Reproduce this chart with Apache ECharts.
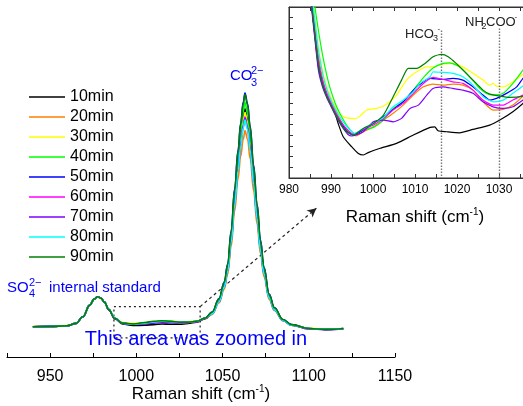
<!DOCTYPE html>
<html>
<head>
<meta charset="utf-8">
<script src="https://cdn.jsdelivr.net/npm/echarts@6/dist/echarts.min.js"></script>
<style>
html,body{margin:0;padding:0;background:#fff;}
#chart{width:523px;height:406px;}
</style>
</head>
<body>
<div id="chart"></div>
<script>
// ---------- data ----------
const seriesNames = ['10min','20min','30min','40min','50min','60min','70min','80min','90min'];
const seriesColors = ['#000000','#FF8000','#FFFF00','#00FF00','#0000FF','#FF00FF','#8000FF','#00FFFF','#008000'];

// main spectrum (Raman shift, cm-1)
const mainX = [940,950,960,965,969,973,975.5,977.5,979.5,981.5,984,987.5,992,998,1005,1010,1015,1020,1025,1030,1035,1040,
  1044,1048,1051,1053,1055,1057,1059,1060.5,1062,1063,1064.5,1066,1068,1070,1072,1074,1077,1080,1085,1090,1100,1110,1120];

const main10 = [10.1,10.2,10.4,11.2,13.4,17.3,19.3,20.1,19.6,18.3,15.8,12.8,11.0,10.5,10.6,10.8,11.0,10.9,10.9,11.2,11.6,12.8,
  14.7,18.9,24.0,29.6,39.8,52.9,65.0,73.4,79.9,82.7,79.4,72.4,60.3,48.2,37.0,28.6,20.3,16.1,12.3,10.7,9.5,9.2,9.4];
const main20 = [10.1,10.2,10.4,11.2,13.4,17.2,19.2,20.0,19.5,18.2,15.8,12.9,11.3,10.9,11.2,11.5,11.7,11.6,11.4,11.5,11.8,12.9,
  14.2,18.1,22.6,27.6,36.9,48.6,59.4,66.9,72.5,75.5,72.6,66.1,55.4,44.4,34.4,26.8,19.2,15.5,12.1,10.6,9.5,9.2,9.4];
const main30 = [10.2,10.3,10.5,11.3,13.4,17.3,19.3,20.1,19.6,18.3,15.9,13.0,11.5,11.2,11.5,11.8,12.0,11.9,11.7,11.8,12.0,13.1,
  14.6,18.7,23.8,29.3,39.3,52.2,64.1,72.4,78.8,81.5,78.3,71.7,59.8,47.6,36.7,28.3,20.1,16.0,12.3,10.7,9.6,9.3,9.6];
const main40 = [10.1,10.2,10.4,11.2,13.4,17.3,19.3,20.1,19.6,18.3,15.9,13.0,11.3,10.9,11.3,11.7,12.0,11.9,11.6,11.6,11.9,13.0,
  14.8,19.1,24.4,30.2,40.9,53.9,66.4,75.1,81.7,85.0,81.3,73.7,61.2,49.1,37.5,28.9,20.6,16.3,12.4,10.7,9.5,9.2,9.5];
const main50 = [10.1,10.2,10.4,11.2,13.4,17.3,19.3,20.1,19.6,18.3,15.8,12.9,11.3,10.9,11.3,11.6,11.8,11.7,11.5,11.6,11.9,13.0,
  15.0,19.5,25.0,31.0,42.0,56.0,69.0,78.0,85.0,88.0,84.5,77.0,64.0,51.0,39.0,30.0,21.0,16.5,12.5,10.8,9.5,9.2,9.5];
const main60 = [10.1,10.2,10.4,11.2,13.4,17.3,19.3,20.1,19.6,18.3,15.8,12.9,11.3,10.9,11.3,11.6,11.7,11.6,11.4,11.5,11.8,12.9,
  14.5,18.5,23.5,28.8,38.7,51.3,62.9,71.0,77.3,80.0,76.8,70.1,58.4,46.8,36.0,27.9,19.9,15.8,12.2,10.6,9.4,9.1,9.4];
const main70 = [10.1,10.2,10.4,11.2,13.4,17.3,19.3,20.1,19.6,18.3,15.8,12.8,11.2,10.9,11.0,11.3,11.6,11.5,11.4,11.5,11.8,12.9,
  14.5,18.5,23.4,28.7,38.5,50.9,62.5,70.5,76.8,79.5,76.3,69.6,58.0,46.5,35.8,27.8,19.8,15.8,12.2,10.6,9.4,9.1,9.4];
const main80 = [10.1,10.2,10.4,11.2,13.4,17.3,19.3,20.1,19.6,18.3,15.9,13.0,11.3,10.9,11.3,11.7,11.9,11.8,11.5,11.6,11.9,13.0,
  14.4,18.4,23.3,28.6,38.3,50.6,62.1,70.1,76.4,79.0,75.8,69.0,57.8,46.3,35.6,27.7,19.7,15.8,12.2,10.6,9.5,9.2,9.5];
const main90 = [10.1,10.2,10.4,11.2,13.4,17.3,19.3,20.1,19.6,18.3,15.8,12.9,11.3,11.0,11.5,11.9,12.1,11.9,11.6,11.6,11.9,13.0,
  15.0,19.5,24.9,30.9,41.8,55.7,68.6,77.5,84.5,87.5,84.0,76.6,63.6,50.7,38.8,29.9,20.9,16.4,12.5,10.8,9.5,9.2,9.5];

// inset (zoomed 980-1040 cm-1), [shift, intensity]
const inset10 = [[984,21],[985,17.6],[986,13.9],[987,10.4],[988,8.7],[989,7.7],[990,6.9],[991,6.0],[991.7,5.1],[992.9,3.86],[994.9,2.93],[996.5,2.3],[997.7,2.15],[999,2.4],[1001.7,2.78],[1005.6,3.24],[1009.6,4.02],[1013.6,4.74],[1014.7,4.79],[1015.5,4.42],[1017.5,4.33],[1020.6,4.23],[1023.8,4.55],[1027.8,4.95],[1030.2,5.42],[1033.3,6.2],[1035.7,6.98],[1038,7.8]];
const inset20 = [[984,22],[985,18.5],[986,15],[987,11.5],[988,9.3],[989,8.0],[990,7.2],[991,6.4],[992,5.6],[993,4.9],[994,4.4],[995,4.1],[996.1,3.95],[997.7,4.33],[1000.1,4.79],[1002.5,5.42],[1004.8,6.05],[1007.2,6.82],[1009.6,7.76],[1012,8.53],[1014.3,8.79],[1016.7,8.69],[1019,8.79],[1021.4,8.69],[1023.8,8.22],[1026.2,7.13],[1028.6,6.36],[1031,6.42],[1033.3,6.82],[1035.7,7.66],[1038,8.6]];
const inset30 = [[984,22.5],[985,19],[986,15.5],[987,12.2],[988,10],[989,8.5],[990,7.5],[991,6.7],[992,6.0],[993.3,5.67],[994.5,5.58],[995.7,5.54],[996.9,5.79],[998.5,6.36],[1000.9,6.51],[1002.5,6.73],[1004,7.13],[1005.6,7.76],[1008,9.16],[1010.4,9.93],[1012.8,10.4],[1014.3,10.4],[1016.7,10.65],[1019,10.72],[1021.4,10.4],[1023.8,9.79],[1026.2,9.16],[1027.8,8.69],[1028.6,8.85],[1029.4,8.6],[1031,8.53],[1033.3,9.0],[1035.7,9.7],[1038,10.5]];
const inset40 = [[984,23],[985,19.8],[986,16.5],[987,13.8],[988,11.5],[989,9.6],[989.8,8.38],[991,7.0],[992.1,6.05],[993.7,4.95],[995.7,4.11],[997.7,4.49],[1000.1,4.74],[1002.5,5.42],[1004.8,6.51],[1007.2,7.13],[1009.6,8.22],[1012,9.4],[1014.3,10.3],[1016.7,10.72],[1018.3,10.78],[1020.6,10.4],[1023,9.47],[1025.4,8.38],[1027,7.92],[1028.6,7.76],[1031,7.92],[1033.3,8.85],[1035.7,10.1],[1038,11.3]];
const inset50 = [[984,21],[985,17.6],[986,14],[987,10.6],[988,8.8],[989,7.7],[990,6.9],[991,6.1],[992,5.4],[993,4.8],[994,4.3],[995.3,4.02],[997.7,4.49],[1000.1,5.11],[1002.5,5.73],[1004.8,6.42],[1007.2,7.13],[1009.6,8.22],[1012,9.0],[1013.6,9.32],[1016.7,9.22],[1019,9.32],[1021.4,9.16],[1023.8,8.53],[1026.2,7.76],[1027.8,7.29],[1029.4,7.45],[1031.8,7.92],[1034.2,8.53],[1035.7,9.32],[1038,10.3]];
const inset60 = [[984,21.5],[985,18],[986,14.5],[987,11],[988,9.1],[989,7.9],[990,7.0],[991,6.2],[992,5.5],[993.3,4.79],[995.3,4.11],[997.7,4.55],[1000.1,4.95],[1002.5,5.58],[1004.8,6.36],[1007.2,6.98],[1009.6,7.92],[1012,8.85],[1014.3,9.41],[1016.7,9.22],[1019,9.0],[1021.4,8.85],[1023.8,8.22],[1026.2,7.29],[1028.6,6.82],[1031,6.82],[1033.3,7.29],[1035.7,7.76],[1038,8.3]];
const inset70 = [[984,20.5],[985,17.2],[986,13.6],[987,10.1],[988,8.5],[989,7.5],[990,6.7],[991,5.9],[992,5.2],[993,4.6],[994,4.1],[994.9,3.93],[997.7,4.33],[1000.1,5.26],[1002.5,5.42],[1004.8,5.26],[1006.8,5.58],[1008.8,6.51],[1010.8,6.82],[1012.8,7.76],[1014.3,8.38],[1016.7,8.53],[1019,8.38],[1021.4,8.22],[1023.8,7.92],[1026.2,7.13],[1028.6,6.66],[1031,6.51],[1033.3,6.66],[1035.7,7.29],[1038,8.0]];
const inset80 = [[984,22],[985,18.8],[986,15.3],[987,12],[988,9.8],[989,8.3],[990,7.3],[991,6.5],[992,5.8],[992.9,5.26],[994.5,4.49],[995.7,4.18],[997.7,4.64],[1000.1,5.11],[1002.5,5.67],[1004.8,6.66],[1007.2,7.29],[1009.6,8.07],[1011.2,8.85],[1013.6,9.47],[1014.3,9.93],[1016.7,9.88],[1019,9.79],[1021.4,9.47],[1023.8,8.69],[1026.2,7.6],[1028.6,7.13],[1031,7.29],[1033.3,7.92],[1035.7,8.6],[1038,9.3]];
const inset90 = [[984,21],[985,17.5],[986,14],[987,10.6],[988,8.7],[989,7.6],[990,6.8],[991,6.0],[992,5.3],[993.3,4.49],[995.3,4.02],[997.7,4.64],[1000.1,5.11],[1002.5,5.89],[1004.8,7.6],[1006.8,9.16],[1008.4,10.25],[1010.4,10.25],[1012.4,10.72],[1014.3,11.34],[1016.3,11.56],[1017.9,11.34],[1019.8,10.72],[1022.2,9.79],[1024.6,8.85],[1026.2,8.22],[1027.8,7.85],[1030.2,7.66],[1032.5,7.54],[1035.7,7.66],[1038,8.0]];

// marker positions
const hco3Shift = 1016.2;
const carbamateShift = 1030;
const zoomBox = [987, 1037, 6.4, 16.8]; // x0, x1, y0, y1 on main chart
const arrowEnd = [1104.4, 49.6];

// ---------- chart ----------
const mainSets = [main10,main20,main30,main40,main50,main60,main70,main80,main90];
const insetSets = [inset10,inset20,inset30,inset40,inset50,inset60,inset70,inset80,inset90];
const FF = "'Liberation Sans', Arial, sans-serif";
const chart = echarts.init(document.getElementById('chart'), null, {renderer:'canvas'});

const series = [];
mainSets.forEach((arr, i) => {
  series.push({
    name: seriesNames[i], type: 'line', xAxisIndex: 0, yAxisIndex: 0,
    data: mainX.map((x, k) => [x, arr[k]]),
    symbol: 'none', smooth: 0.4, smoothMonotone: 'x',
    lineStyle: {color: seriesColors[i], width: 1.6},
    itemStyle: {color: seriesColors[i]},
    animation: false, z: 2 + i
  });
});
insetSets.forEach((arr, i) => {
  series.push({
    name: seriesNames[i], type: 'line', xAxisIndex: 1, yAxisIndex: 1,
    data: arr, symbol: 'none', smooth: 0.2, clip: true,
    lineStyle: {color: seriesColors[i], width: 1.2},
    itemStyle: {color: seriesColors[i]},
    animation: false, z: 2 + i
  });
});
// markers: zoom box + arrow on main chart
series.push({
  type: 'line', xAxisIndex: 0, yAxisIndex: 0, data: [], animation: false, z: 20,
  markArea: {
    silent: true,
    itemStyle: {color: 'rgba(0,0,0,0)', borderColor: '#222', borderWidth: 1.2, borderType: [2, 3]},
    data: [[{coord: [zoomBox[0], zoomBox[3]]}, {coord: [zoomBox[1], zoomBox[2]]}]]
  },
  markLine: {
    silent: true, symbol: ['none', 'arrow'], symbolSize: [7, 9],
    label: {show: false},
    lineStyle: {color: '#222', width: 1.2, type: [3, 3]},
    data: [[{coord: [zoomBox[1], zoomBox[3]]}, {coord: arrowEnd}]]
  }
});
// markers: reference lines in inset
series.push({
  type: 'line', xAxisIndex: 1, yAxisIndex: 1, data: [], animation: false, z: 1,
  markLine: {
    silent: true, symbol: ['none', 'none'], label: {show: false},
    lineStyle: {color: '#777', width: 1.4, type: [1.5, 1.5]},
    data: [
      [{coord: [hco3Shift, 13.8]}, {coord: [hco3Shift, 0]}],
      [{coord: [carbamateShift, 14.0]}, {coord: [carbamateShift, 0]}]
    ]
  }
});

const nameRich = {
  a: {fontSize: 17, fontFamily: FF, color: '#000', lineHeight: 20},
  s: {fontSize: 10, fontFamily: FF, color: '#000', verticalAlign: 'top', lineHeight: 20}
};

const option = {
  backgroundColor: '#fff',
  animation: false,
  legend: {
    data: seriesNames, orient: 'vertical', left: 29, top: 89, padding: 0,
    icon: 'rect', itemWidth: 36, itemHeight: 1.6, itemGap: 4,
    textStyle: {fontSize: 16, fontFamily: FF, color: '#000', lineHeight: 16},
    selectedMode: false
  },
  grid: [
    {left: 7, top: 57, width: 388, height: 300, show: false, outerBoundsMode: 'none', containLabel: false},
    {left: 289, top: 7, width: 252, height: 171, show: true, borderColor: '#333', borderWidth: 1, backgroundColor: 'rgba(0,0,0,0)', outerBoundsMode: 'none', containLabel: false}
  ],
  xAxis: [
    {type: 'value', gridIndex: 0, min: 925, max: 1150, interval: 25,
     axisLine: {show: true, onZero: false, lineStyle: {color: '#000', width: 1}},
     axisTick: {show: true, inside: true, length: 4, lineStyle: {color: '#000'}},
     axisLabel: {fontSize: 16, fontFamily: FF, color: '#000', margin: 12,
       formatter: v => (v % 50 === 0 ? String(v) : '')},
     splitLine: {show: false},
     name: '{a|Raman shift (cm}{s|-1}{a|)}', nameLocation: 'middle', nameGap: 27,
     nameMoveOverlap: false,
     nameTextStyle: {rich: nameRich}},
    {type: 'value', gridIndex: 1, min: 980, max: 1040, interval: 5, position: 'bottom',
     axisLine: {show: true, onZero: false, lineStyle: {color: '#333', width: 1}},
     axisTick: {show: true, inside: true, length: 4, lineStyle: {color: '#333'}},
     axisLabel: {fontSize: 12, fontFamily: FF, color: '#000', margin: 6,
       formatter: v => (v % 10 === 0 ? String(v) : '')},
     splitLine: {show: false},
     name: '{a|Raman shift (cm}{s|-1}{a|)}', nameLocation: 'middle', nameGap: 29,
     nameMoveOverlap: false,
     nameTextStyle: {rich: nameRich}},
    {type: 'value', gridIndex: 1, min: 980, max: 1040, interval: 5, position: 'top',
     axisLine: {show: true, onZero: false, lineStyle: {color: '#333', width: 1}},
     axisTick: {show: true, inside: true, length: 4, lineStyle: {color: '#333'}},
     axisLabel: {show: false}, splitLine: {show: false}}
  ],
  yAxis: [
    {type: 'value', gridIndex: 0, min: 0, max: 100, show: false},
    {type: 'value', gridIndex: 1, min: 0, max: 16, interval: 1, position: 'left',
     axisLine: {show: true, onZero: false, lineStyle: {color: '#333', width: 1}},
     axisTick: {show: true, inside: true, length: 4, lineStyle: {color: '#333'}},
     axisLabel: {show: false}, splitLine: {show: false}}
  ],
  series: series,
  graphic: [
    // CO3 2- label
    {type: 'text', x: 230, y: 76, z: 50, style: {text: 'CO', fontSize: 15, fontFamily: FF, fill: '#0000FF', verticalAlign: 'middle', textVerticalAlign: 'middle'}},
    {type: 'text', x: 251, y: 71, z: 50, style: {text: '2\u2212', fontSize: 11, fontFamily: FF, fill: '#0000FF', verticalAlign: 'middle', textVerticalAlign: 'middle'}},
    {type: 'text', x: 251, y: 83, z: 50, style: {text: '3', fontSize: 11, fontFamily: FF, fill: '#0000FF', verticalAlign: 'middle', textVerticalAlign: 'middle'}},
    // SO4 2- internal standard
    {type: 'text', x: 7, y: 288, z: 50, style: {text: 'SO', fontSize: 15, fontFamily: FF, fill: '#0000FF', verticalAlign: 'middle', textVerticalAlign: 'middle'}},
    {type: 'text', x: 29, y: 283, z: 50, style: {text: '2\u2212', fontSize: 11, fontFamily: FF, fill: '#0000FF', verticalAlign: 'middle', textVerticalAlign: 'middle'}},
    {type: 'text', x: 29, y: 294, z: 50, style: {text: '4', fontSize: 11, fontFamily: FF, fill: '#0000FF', verticalAlign: 'middle', textVerticalAlign: 'middle'}},
    {type: 'text', x: 49, y: 288, z: 50, style: {text: 'internal standard', fontSize: 15, fontFamily: FF, fill: '#0000FF', verticalAlign: 'middle', textVerticalAlign: 'middle'}},
    // zoom note
    {type: 'text', x: 196, y: 339, z: 50, style: {text: 'This area was zoomed in', fontSize: 20, fontFamily: FF, fill: '#0000FF', align: 'center', textAlign: 'center', verticalAlign: 'middle', textVerticalAlign: 'middle'}},
    // HCO3-
    {type: 'text', x: 405, y: 34, z: 50, style: {text: 'HCO', fontSize: 13, fontFamily: FF, fill: '#222', verticalAlign: 'middle', textVerticalAlign: 'middle'}},
    {type: 'text', x: 433, y: 39, z: 50, style: {text: '3', fontSize: 9, fontFamily: FF, fill: '#222', verticalAlign: 'middle', textVerticalAlign: 'middle'}},
    {type: 'text', x: 437.5, y: 29, z: 50, style: {text: '-', fontSize: 8, fontFamily: FF, fill: '#222', verticalAlign: 'middle', textVerticalAlign: 'middle'}},
    // NH2COO-
    {type: 'text', x: 465, y: 22, z: 50, style: {text: 'NH', fontSize: 13, fontFamily: FF, fill: '#222', verticalAlign: 'middle', textVerticalAlign: 'middle'}},
    {type: 'text', x: 481.5, y: 27, z: 50, style: {text: '2', fontSize: 9, fontFamily: FF, fill: '#222', verticalAlign: 'middle', textVerticalAlign: 'middle'}},
    {type: 'text', x: 486, y: 22, z: 50, style: {text: 'COO', fontSize: 13, fontFamily: FF, fill: '#222', verticalAlign: 'middle', textVerticalAlign: 'middle'}},
    {type: 'text', x: 514.5, y: 17, z: 50, style: {text: '-', fontSize: 8, fontFamily: FF, fill: '#222', verticalAlign: 'middle', textVerticalAlign: 'middle'}}
  ]
};
chart.setOption(option);
</script>
</body>
</html>
